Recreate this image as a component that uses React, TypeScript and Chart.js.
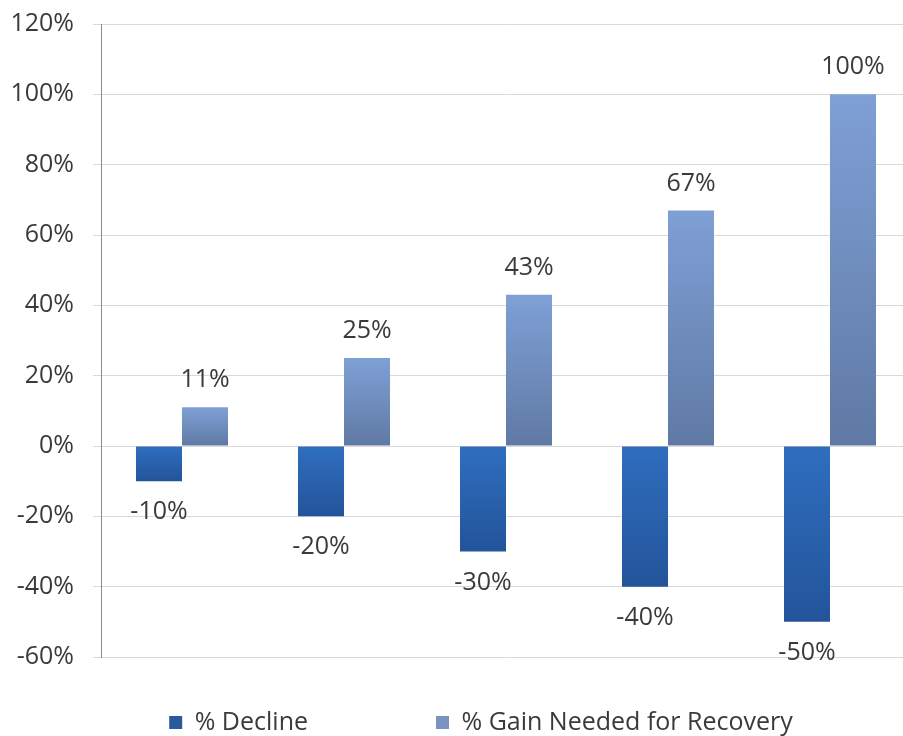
import React, { useEffect, useRef } from "react";
import { Chart, registerables } from "chart.js";

Chart.register(...registerables);

const categories = ["1", "2", "3", "4", "5"];
const declineValues = [-10, -20, -30, -40, -50];
const gainValues = [11, 25, 43, 67, 100];
const seriesLabels = ["% Decline", "% Gain Needed for Recovery"];
const yMin = -60;
const yMax = 120;
const yStep = 20;

const FONT = "'Open Sans', sans-serif";
const FSIZE = 25;
const TEXT = "#3a3a3a";
const LEGEND_PAD = 53;

function barGradient(
  context: any,
  topColor: string,
  bottomColor: string,
  fallback: string
) {
  const chart = context.chart;
  const y = chart.scales?.y;
  if (context.type !== "data" || !y || typeof context.raw !== "number") return fallback;
  const p0 = y.getPixelForValue(0);
  const p1 = y.getPixelForValue(context.raw);
  const top = Math.min(p0, p1);
  const bottom = Math.max(p0, p1);
  if (!isFinite(top) || !isFinite(bottom) || bottom - top < 1) return fallback;
  const g = chart.ctx.createLinearGradient(0, top, 0, bottom);
  g.addColorStop(0, topColor);
  g.addColorStop(1, bottomColor);
  return g;
}

const dataLabelPlugin = {
  id: "dataLabels",
  afterDatasetsDraw(chart: any) {
    const { ctx } = chart;
    ctx.save();
    ctx.font = `${FSIZE}px ${FONT}`;
    ctx.fillStyle = TEXT;
    ctx.textAlign = "center";
    ctx.textBaseline = "middle";
    chart.data.datasets.forEach((ds: any, di: number) => {
      const meta = chart.getDatasetMeta(di);
      meta.data.forEach((el: any, i: number) => {
        const v = ds.data[i] as number;
        const y = v >= 0 ? el.y - 27 : el.y + 31;
        ctx.fillText(`${v}%`, el.x, y);
      });
    });
    ctx.restore();
  },
};

export default function App() {
  const ref = useRef<HTMLCanvasElement | null>(null);

  useEffect(() => {
    document.body.style.margin = "0";
    if (!ref.current) return;
    const chart = new Chart(ref.current, {
      type: "bar",
      data: {
        labels: categories,
        datasets: [
          {
            label: seriesLabels[0],
            data: declineValues,
            backgroundColor: (c: any) => barGradient(c, "#2f6ebf", "#23549a", "#2a5d9f"),
            borderWidth: 0,
            categoryPercentage: 0.568,
            barPercentage: 1,
          },
          {
            label: seriesLabels[1],
            data: gainValues,
            backgroundColor: (c: any) => barGradient(c, "#7fa0d6", "#5f79a4", "#7891bd"),
            borderWidth: 0,
            categoryPercentage: 0.568,
            barPercentage: 1,
          },
        ],
      },
      options: {
        animation: false,
        responsive: true,
        maintainAspectRatio: false,
        layout: { padding: { top: 24, left: 0, right: 9, bottom: 0 } },
        scales: {
          x: { display: false },
          y: {
            min: yMin,
            max: yMax,
            afterFit: (scale: any) => {
              scale.width = 101;
              scale.paddingTop = 0;
              scale.paddingBottom = 0;
            },
            ticks: {
              stepSize: yStep,
              callback: (v: any) => `${v}%`,
              color: TEXT,
              font: { family: FONT, size: FSIZE },
              padding: 19,
            },
            grid: {
              color: "#d9d9d9",
              lineWidth: 1,
              tickLength: 8,
              drawTicks: true,
            },
            border: { display: true, color: "#8a8a8a", width: 1 },
          },
        },
        plugins: {
          tooltip: { enabled: false },
          legend: {
            position: "bottom",
            fullSize: false,
            labels: {
              color: TEXT,
              font: { family: FONT, size: FSIZE },
              boxWidth: 13,
              boxHeight: 13,
              padding: LEGEND_PAD,
              generateLabels: (ch: any) => {
                const items = Chart.defaults.plugins.legend.labels.generateLabels(ch);
                const cols = ["#2a5a9b", "#7a93c1"];
                const ctx = ch.ctx;
                ctx.save();
                ctx.font = `${FSIZE}px ${FONT}`;
                const tw1 = ctx.measureText(items[0].text).width;
                const tw2 = ctx.measureText(items[1].text).width;
                const sp = ctx.measureText("\u2002").width || 12;
                ctx.restore();
                const need1 = 268 - LEGEND_PAD - 13 - FSIZE / 2 - tw1;
                const n1 = Math.max(0, Math.round(need1 / sp));
                const w2 = 13 + FSIZE / 2 + tw2;
                const need2 = 2 * (506 - 170) - 268 - w2;
                const n2 = Math.max(0, Math.round(need2 / sp));
                return items.map((it: any, i: number) => ({
                  ...it,
                  text: it.text + "\u2002".repeat(i === 0 ? n1 : n2),
                  fillStyle: cols[i],
                  strokeStyle: cols[i],
                  lineWidth: 0,
                }));
              },
            },
          },
        },
      },
      plugins: [dataLabelPlugin],
    });
    return () => chart.destroy();
  }, []);

  return (
    <div style={{ width: 903, height: 736, overflow: "hidden", position: "relative", background: "#fff" }}>
      <div style={{ width: 920, height: 745, position: "absolute", left: 0, top: 0 }}>
        <canvas ref={ref} />
      </div>
    </div>
  );
}
